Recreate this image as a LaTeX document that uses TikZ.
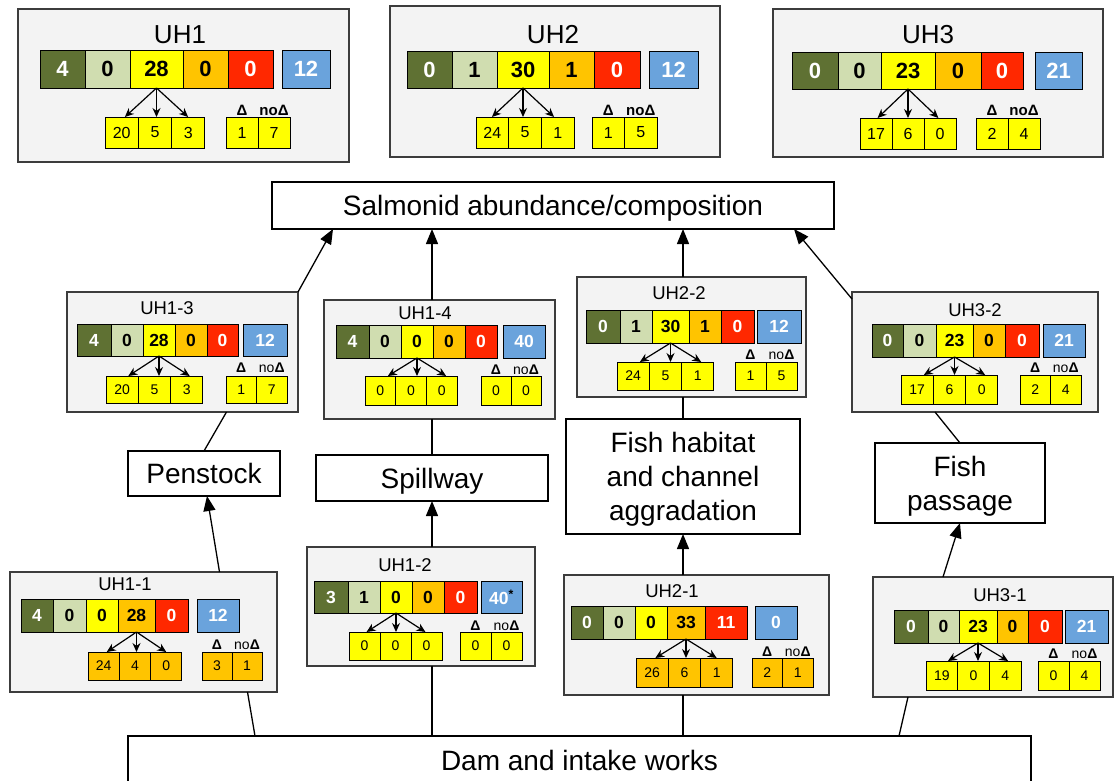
\documentclass[tikz,border=0pt]{standalone}
\usepackage{fontspec}
\setmainfont{Liberation Sans}
\usetikzlibrary{arrows.meta,calc}

\definecolor{cDG}{RGB}{95,113,51}
\definecolor{cLG}{RGB}{208,221,176}
\definecolor{cYe}{RGB}{255,255,0}
\definecolor{cOr}{RGB}{255,196,0}
\definecolor{cRe}{RGB}{255,40,0}
\definecolor{cBl}{RGB}{106,163,220}
\definecolor{cPanel}{RGB}{243,243,243}
\definecolor{cEdge}{RGB}{60,60,60}

\newcommand\uhfs[2]{\fontsize{#1}{#2}\selectfont}

\tikzset{
  panelbox/.style={draw=cEdge, fill=cPanel, line width=1.2pt, inner sep=0pt, outer sep=0pt},
  cellbox/.style={draw=black, line width=0.9pt, inner sep=0pt, outer sep=0pt},
  bigbox/.style={draw=black, fill=white, line width=1.1pt, inner sep=0pt, outer sep=0pt,
    align=center, text depth=0pt, font=\uhfs{28}{34}},
  link/.style={line width=1.3pt},
  bigarrow/.style={link, -{Triangle[length=15pt,width=12pt]}},
  fanarrow/.style={line width=1.2pt, -{Stealth[length=9pt,width=8pt]}},
}

% panel parameters
\pgfkeys{
  /uh/box/.code n args={4}{\def\uhXa{#1}\def\uhYa{#2}\def\uhXb{#3}\def\uhYb{#4}},
  /uh/title/.code n args={3}{\def\uhTt{#1}\def\uhTx{#2}\def\uhTy{#3}},
  /uh/bar/.code 2 args={\def\uhBa{#1}\def\uhBb{#2}},
  /uh/cells/.code n args={8}{\def\uhCa{#1}\def\uhCb{#2}\def\uhCc{#3}\def\uhCd{#4}%
     \def\uhCe{#5}\def\uhCf{#6}\def\uhCg{#7}\def\uhCh{#8}},
  /uh/vals/.code n args={6}{\def\uhVa{#1}\def\uhVb{#2}\def\uhVc{#3}\def\uhVd{#4}%
     \def\uhVe{#5}\def\uhVf{#6}},
  /uh/sub/.code n args={6}{\def\uhSa{#1}\def\uhSb{#2}\def\uhSx{#3}\def\uhSw{#4}%
     \def\uhDx{#5}\def\uhDw{#6}},
  /uh/subvals/.code n args={5}{\def\uhWa{#1}\def\uhWb{#2}\def\uhWc{#3}\def\uhWd{#4}\def\uhWe{#5}},
  /uh/labely/.store in=\uhLy,
  /uh/subfill/.store in=\uhSf,
  /uh/src/.store in=\uhSrc,
  /uh/kind/.is choice,
  /uh/kind/top/.code={\tikzset{
      uhtitle/.style={font=\uhfs{26}{26}, inner sep=0pt},
      uhnum/.style={font=\uhfs{22}{22}\bfseries},
      uhsub/.style={font=\uhfs{16}{16}},
      uhlab/.style={font=\uhfs{15}{15}\bfseries, inner sep=0pt}}},
  /uh/kind/mid/.code={\tikzset{
      uhtitle/.style={font=\uhfs{18.5}{18.5}, inner sep=0pt},
      uhnum/.style={font=\uhfs{17.5}{17.5}\bfseries},
      uhsub/.style={font=\uhfs{14}{14}},
      uhlab/.style={font=\uhfs{14}{14}, inner sep=0pt}}},
}

% one coloured cell: name, x1, x2, y1, y2, fill, style, text
\newcommand\uhcell[8]{%
  \node[cellbox, fill=#6, #7, minimum width={#3-#2}, minimum height={#5-#4}]
    (#1) at ({(#2+#3)/2},{(#4+#5)/2}) {#8};}

% one score panel: name, parameters
\newcommand\uhpanel[2]{%
\begin{scope}
  \pgfkeys{/uh/.cd,#2}%
  \pgfmathsetmacro\uhSxb{\uhSx+\uhSw}\pgfmathsetmacro\uhSxc{\uhSx+2*\uhSw}%
  \pgfmathsetmacro\uhSxd{\uhSx+3*\uhSw}%
  \pgfmathsetmacro\uhDxb{\uhDx+\uhDw}\pgfmathsetmacro\uhDxc{\uhDx+2*\uhDw}%
  \node[panelbox, minimum width={\uhXb-\uhXa}, minimum height={\uhYb-\uhYa}]
    (#1) at ({(\uhXa+\uhXb)/2},{(\uhYa+\uhYb)/2}) {};
  \node[uhtitle] (#1-t) at (\uhTx,\uhTy) {\uhTt};
  \uhcell{#1-c1}{\uhCa}{\uhCb}{\uhBa}{\uhBb}{cDG}{uhnum,text=white}{\uhVa}
  \uhcell{#1-c2}{\uhCb}{\uhCc}{\uhBa}{\uhBb}{cLG}{uhnum}{\uhVb}
  \uhcell{#1-c3}{\uhCc}{\uhCd}{\uhBa}{\uhBb}{cYe}{uhnum}{\uhVc}
  \uhcell{#1-c4}{\uhCd}{\uhCe}{\uhBa}{\uhBb}{cOr}{uhnum}{\uhVd}
  \uhcell{#1-c5}{\uhCe}{\uhCf}{\uhBa}{\uhBb}{cRe}{uhnum,text=white}{\uhVe}
  \uhcell{#1-c6}{\uhCg}{\uhCh}{\uhBa}{\uhBb}{cBl}{uhnum,text=white}{\uhVf}
  \uhcell{#1-s1}{\uhSx}{\uhSxb}{\uhSa}{\uhSb}{\uhSf}{uhsub}{\uhWa}
  \uhcell{#1-s2}{\uhSxb}{\uhSxc}{\uhSa}{\uhSb}{\uhSf}{uhsub}{\uhWb}
  \uhcell{#1-s3}{\uhSxc}{\uhSxd}{\uhSa}{\uhSb}{\uhSf}{uhsub}{\uhWc}
  \uhcell{#1-d1}{\uhDx}{\uhDxb}{\uhSa}{\uhSb}{\uhSf}{uhsub}{\uhWd}
  \uhcell{#1-d2}{\uhDxb}{\uhDxc}{\uhSa}{\uhSb}{\uhSf}{uhsub}{\uhWe}
  \node[uhlab] (#1-l1) at ({(\uhDx+\uhDxb)/2},\uhLy) {\textbf{Δ}};
  \node[uhlab] (#1-l2) at ({(\uhDxb+\uhDxc)/2},\uhLy) {no\textbf{Δ}};
  \coordinate (#1-src) at (#1-c\uhSrc.south);
  \coordinate (#1-m) at (#1-src |- #1-s1.north);
  \draw[fanarrow] (#1-src) -- ($(#1-m)+({-0.95*\uhSw},0)$);
  \draw[fanarrow] (#1-src) -- (#1-m);
  \draw[fanarrow] (#1-src) -- ($(#1-m)+({0.95*\uhSw},0)$);
\end{scope}}

\begin{document}
\begin{tikzpicture}[x=1pt,y=-1pt]
\useasboundingbox (0,0) rectangle (1114,780);

% summary panels
\uhpanel{u1}{kind=top, box={18}{9}{349}{162}, title={UH1}{180}{35},
  bar={50}{88}, cells={40}{85}{130}{183}{228}{273}{282}{330},
  vals={4}{0}{28}{0}{0}{12},
  sub={117}{148}{105}{33.3}{226}{32}, subvals={20}{5}{3}{1}{7},
  labely=110, subfill=cYe, src=3}
\uhpanel{u2}{kind=top, box={390}{6}{720}{157}, title={UH2}{553}{35},
  bar={51}{88}, cells={407}{452}{497}{549}{594}{640}{649}{698},
  vals={0}{1}{30}{1}{0}{12},
  sub={117}{148}{476}{32.7}{592}{32.5}, subvals={24}{5}{1}{1}{5},
  labely=110, subfill=cYe, src=3}
\uhpanel{u3}{kind=top, box={773}{9}{1103}{157}, title={UH3}{928}{35},
  bar={52}{89}, cells={792}{838}{881}{935}{981}{1023}{1035}{1082},
  vals={0}{0}{23}{0}{0}{21},
  sub={118}{149}{860}{32}{976}{32}, subvals={17}{6}{0}{2}{4},
  labely=110, subfill=cYe, src=3}

% impact panels
\uhpanel{u13}{kind=mid, box={67}{292}{298}{412}, title={UH1-3}{167}{308},
  bar={324}{356}, cells={77}{111}{143}{175}{207}{238}{243}{287},
  vals={4}{0}{28}{0}{0}{12},
  sub={376}{403}{106}{32.3}{226}{30.5}, subvals={20}{5}{3}{1}{7},
  labely=368, subfill=cYe, src=3}
\uhpanel{u14}{kind=mid, box={324}{300}{555}{419}, title={UH1-4}{425}{313},
  bar={325}{358}, cells={336}{369}{401}{433}{465}{497}{503}{545},
  vals={4}{0}{0}{0}{0}{40},
  sub={376}{405}{365}{30.7}{481}{30}, subvals={0}{0}{0}{0}{0},
  labely=370, subfill=cYe, src=3}
\uhpanel{u22}{kind=mid, box={577}{277}{806}{397}, title={UH2-2}{679}{293},
  bar={310}{343}, cells={586}{620}{652}{689}{721}{754}{757}{801},
  vals={0}{1}{30}{1}{0}{12},
  sub={362}{390}{617}{32.3}{735}{31}, subvals={24}{5}{1}{1}{5},
  labely=355, subfill=cYe, src=3}
\uhpanel{u32}{kind=mid, box={852}{292}{1098}{412}, title={UH3-2}{975}{310},
  bar={324}{357}, cells={872}{903}{936}{973}{1005}{1039}{1043}{1085},
  vals={0}{0}{23}{0}{0}{21},
  sub={375}{404}{901}{32.3}{1020}{30.5}, subvals={17}{6}{0}{2}{4},
  labely=368, subfill=cYe, src=3}
\uhpanel{u11}{kind=mid, box={10}{572}{277}{692}, title={UH1-1}{125}{584},
  bar={599}{632}, cells={21}{53}{86}{118}{155}{188}{197}{239},
  vals={4}{0}{0}{28}{0}{12},
  sub={652}{680}{88}{31.3}{202}{30}, subvals={24}{4}{0}{3}{1},
  labely=645, subfill=cOr, src=4}
\uhpanel{u12}{kind=mid, box={307}{547}{535}{666}, title={UH1-2}{405}{565},
  bar={581}{613}, cells={314}{348}{380}{412}{444}{477}{481}{522},
  vals={3}{1}{0}{0}{0}{40\textsuperscript{\color{black}*}},
  sub={632}{660}{349}{31}{460}{31}, subvals={0}{0}{0}{0}{0},
  labely=626, subfill=cYe, src=3}
\uhpanel{u21}{kind=mid, box={564}{575}{829}{695}, title={UH2-1}{672}{591},
  bar={606}{639}, cells={571}{603}{635}{667}{705}{747}{755}{797},
  vals={0}{0}{0}{33}{11}{0},
  sub={658}{687}{636}{32.3}{752}{30.5}, subvals={26}{6}{1}{2}{1},
  labely=652, subfill=cOr, src=4}
\uhpanel{u31}{kind=mid, box={873}{577}{1113}{697}, title={UH3-1}{1000}{595},
  bar={610}{643}, cells={894}{928}{959}{997}{1028}{1062}{1065}{1108},
  vals={0}{0}{23}{0}{0}{21},
  sub={661}{690}{926}{31.7}{1038}{31}, subvals={19}{0}{4}{0}{4},
  labely=654, subfill=cYe, src=3}

% pathway boxes
\node[bigbox, minimum width=562, minimum height=47] (sal) at (553,205.5) {Salmonid abundance/composition};
\node[bigbox, minimum width=152, minimum height=45] (pen) at (204,473.5) {Penstock};
\node[bigbox, minimum width=232, minimum height=46] (spill) at (432,478) {Spillway};
\node[bigbox, minimum width=234, minimum height=115] (fh) at (683,476.5) {Fish habitat\\and channel\\aggradation};
\node[bigbox, minimum width=170, minimum height=80] (fp) at (960,483) {Fish\\passage};
\node[bigbox, minimum width=903, minimum height=48] (dam) at (579.5,760) {Dam and intake works};

% links
\draw[bigarrow] (u13.north east) -- ([xshift=61pt]sal.south west);
\draw[bigarrow] (u14.north -| spill.north) -- (sal.south -| spill.north);
\draw[bigarrow] (u22.north -| fh.north) -- (sal.south -| fh.north);
\draw[bigarrow] ([yshift=-7pt]u32.north west) -- ([xshift=-40pt]sal.south east);
\draw[link] (pen.north) -- ([xshift=44pt]u13.south);
\draw[link] (spill.north) -- (u14.south -| spill.north);
\draw[link] (fh.north) -- (u22.south -| fh.north);
\draw[link] (fp.north) -- ([xshift=-40pt]u32.south);
\draw[bigarrow] ([xshift=76pt]u11.north) -- ([xshift=3pt]pen.south);
\draw[bigarrow] (u12.north -| spill.south) -- (spill.south);
\draw[bigarrow] (u21.north -| fh.south) -- (fh.south);
\draw[bigarrow] ([xshift=-50pt]u31.north) -- (fp.south);
\draw[link] ([xshift=104pt]u11.south) -- ([xshift=127pt]dam.north west);
\draw[link] (u12.south -| spill.south) -- (dam.north -| spill.south);
\draw[link] (u21.south -| fh.south) -- (dam.north -| fh.south);
\draw[link] ([xshift=-85pt]u31.south) -- ([xshift=-132pt]dam.north east);
\end{tikzpicture}
\end{document}
